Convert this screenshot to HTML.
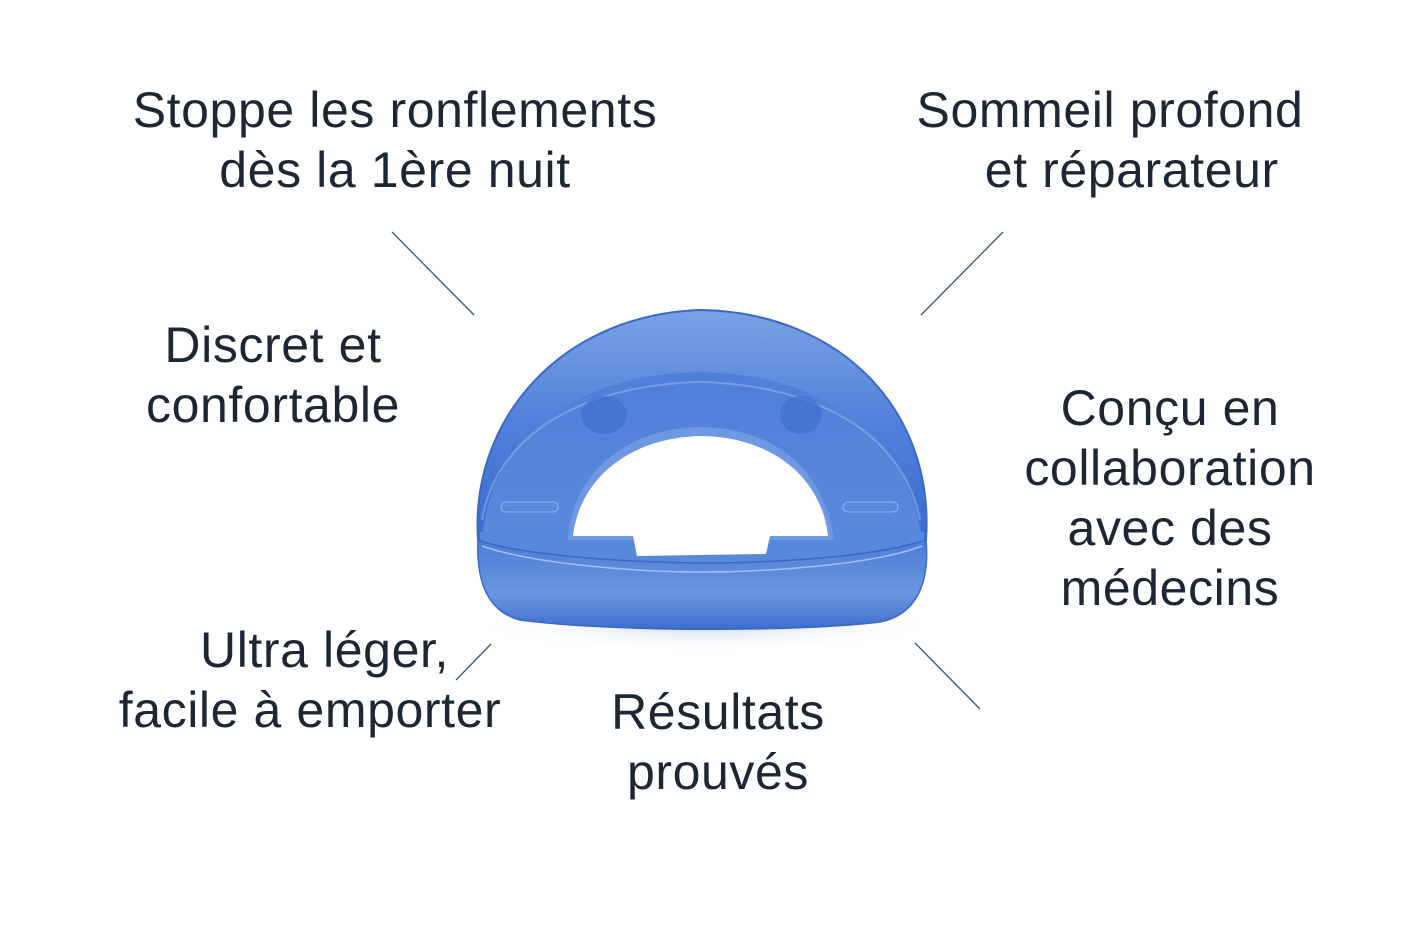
<!DOCTYPE html>
<html><head><meta charset="utf-8"><style>
body{margin:0;background:#fff;width:1420px;height:947px;overflow:hidden;position:relative;font-family:"Liberation Sans",sans-serif;color:#1d2633}
.t{position:absolute;font-size:50px;line-height:60px;text-align:center;white-space:nowrap;letter-spacing:0.6px}
</style></head><body>
<div class="t" style="left:95px;top:80px;width:600px">Stoppe les ronflements<br>dès la 1ère nuit</div>
<div class="t" style="left:860px;top:80px;width:500px">Sommeil profond<br>&nbsp;&nbsp;&nbsp;et réparateur</div>
<div class="t" style="left:123px;top:315px;width:300px">Discret et<br>confortable</div>
<div class="t" style="left:1000px;top:378px;width:340px">Conçu en<br>collaboration<br>avec des<br>médecins</div>
<div class="t" style="left:100px;top:620px;width:420px">&nbsp;&nbsp;Ultra léger,<br>facile à emporter</div>
<div class="t" style="left:558px;top:682px;width:320px">Résultats<br>prouvés</div>
<svg width="1420" height="947" style="position:absolute;left:0;top:0">
<defs>
<linearGradient id="g1" x1="0" y1="0" x2="0" y2="1"><stop offset="0" stop-color="#7aa2e4"/><stop offset="0.5" stop-color="#4f80d9"/><stop offset="1" stop-color="#3a6ccf"/></linearGradient>
<linearGradient id="g2" x1="0" y1="0" x2="0" y2="1"><stop offset="0" stop-color="#4f80d8"/><stop offset="1" stop-color="#5a89dc"/></linearGradient>
<linearGradient id="g3" x1="0" y1="0" x2="0" y2="1"><stop offset="0" stop-color="#4b7dd6"/><stop offset="0.6" stop-color="#6a96e0"/><stop offset="1" stop-color="#3d6ecf"/></linearGradient>
<radialGradient id="sh" cx="0.5" cy="0.5" r="0.5"><stop offset="0" stop-color="#c9d6ea"/><stop offset="1" stop-color="#fff" stop-opacity="0"/></radialGradient>
</defs>
<g stroke="#3d5670" stroke-width="1.3">
<line x1="392" y1="232" x2="474" y2="315"/>
<line x1="1003" y1="232" x2="921" y2="315"/>
<line x1="456" y1="680" x2="491" y2="644"/>
<line x1="915" y1="643" x2="980" y2="709"/>
</g>
<ellipse cx="705" cy="625" rx="235" ry="28" fill="url(#sh)"/>
<path d="M478 540 C470 420 560 315 700 310 C840 312 935 410 926 540 Z" fill="url(#g1)" stroke="#3b68c4" stroke-width="2"/>
<path d="M482 540 C490 440 570 375 700 372 C830 375 910 440 922 540 Z" fill="url(#g2)"/>
<path d="M482 520 C495 440 575 385 700 382 C825 385 905 440 920 520" fill="none" stroke="#8fb0ea" stroke-width="2" opacity="0.6"/>
<ellipse cx="604" cy="415" rx="23" ry="19" fill="#3f6fcc" opacity="0.7"/>
<ellipse cx="801" cy="415" rx="21" ry="19" fill="#3f6fcc" opacity="0.7"/>
<rect x="501" y="502" width="57" height="10" rx="5" fill="#5a8ade" stroke="#8fb0ea"/>
<rect x="843" y="502" width="55" height="10" rx="5" fill="#5a8ade" stroke="#8fb0ea"/>
<!-- ledge -->
<path d="M480 532 C520 525 600 530 700 530 C800 530 880 525 924 532 L924 545 C870 560 780 564 700 564 C620 564 530 560 480 545 Z" fill="#5689dc"/>
<path d="M568 540 C572 470 630 428 700 427 C775 428 825 470 834 540 Z" fill="#6e98e2"/>
<path d="M573 536 C580 478 630 437 702 436 C772 437 822 478 828 536 L770 536 L766 554 L637 556 L633 536 Z" fill="#fff"/>
<path d="M478 540 C520 555 620 562 700 563 C790 563 880 555 926 540 C930 585 915 615 880 622 C800 632 610 632 520 620 C490 612 476 585 478 540 Z" fill="url(#g3)" stroke="#3b68c4" stroke-width="1.5"/>
<path d="M482 546 C540 566 650 572 700 572 C760 572 870 566 922 546" fill="none" stroke="#a4c0f0" stroke-width="1.5"/>
</svg>
</body></html>
